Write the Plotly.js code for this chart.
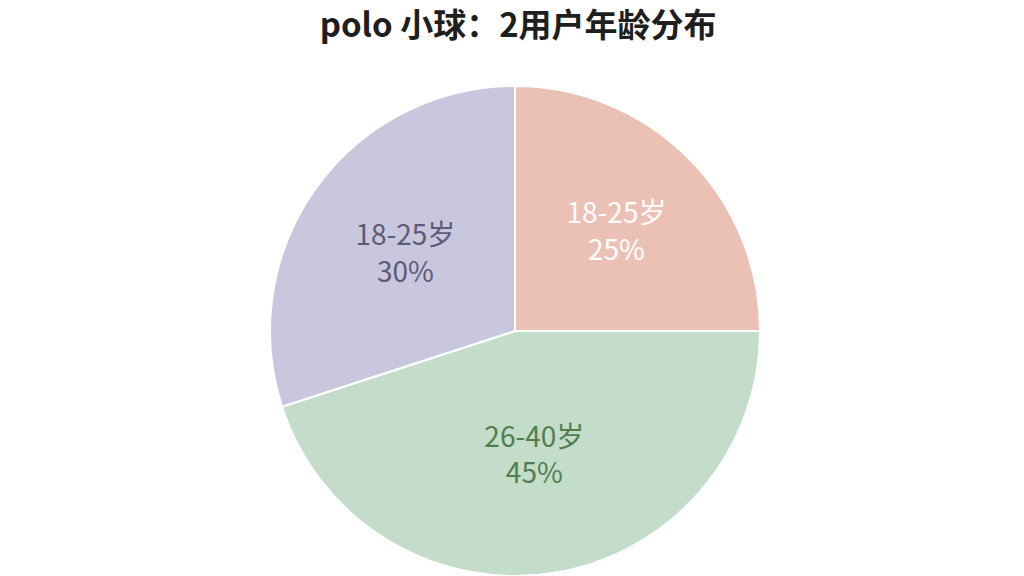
<!DOCTYPE html>
<html>
<head>
<meta charset="utf-8">
<script src="https://cdn.plot.ly/plotly-3.0.1.min.js"></script>
<style>html,body{margin:0;padding:0;background:#fff;}#chart{width:1024px;height:576px;}</style>
</head>
<body>
<div id="chart"></div>
<script>
// Data
const sliceKeys = ["slice1", "slice2", "slice3"];
const ageLabels = ["18-25岁", "26-40岁", "18-25岁"];
const shares = [25, 45, 30];
const sliceColors = ["#ECC1B5", "#C4DDCA", "#C9C7DD"];
const labelColors = ["#FFFFFF", "#4F7F4E", "#5C5A78"];
const titleText = "polo 小球：2用户年龄分布";

const trace = {
  type: "pie",
  labels: sliceKeys,
  values: shares,
  text: ageLabels,
  texttemplate: "%{text}<br>%{percent}",
  textinfo: "text+percent",
  textposition: "inside",
  insidetextorientation: "horizontal",
  sort: false,
  direction: "clockwise",
  rotation: 0,
  hole: 0,
  marker: { colors: sliceColors, line: { color: "#FFFFFF", width: 2 } },
  textfont: { family: "Noto Sans CJK SC, Noto Sans, sans-serif", size: 28, color: labelColors },
  showlegend: false,
  hoverinfo: "none"
};

const layout = {
  width: 1024,
  height: 576,
  margin: { l: 6, r: 0, t: 86, b: 0 },
  paper_bgcolor: "#FFFFFF",
  plot_bgcolor: "#FFFFFF",
  title: {
    text: "<b>" + titleText + "</b>",
    x: 0.506,
    xanchor: "center",
    y: 0.955,
    yanchor: "middle",
    font: { family: "Noto Sans CJK SC, Noto Sans, sans-serif", size: 33, color: "#1E1E1E" }
  },
  showlegend: false
};

Plotly.newPlot("chart", [trace], layout, { displayModeBar: false, staticPlot: true });
</script>
</body>
</html>
